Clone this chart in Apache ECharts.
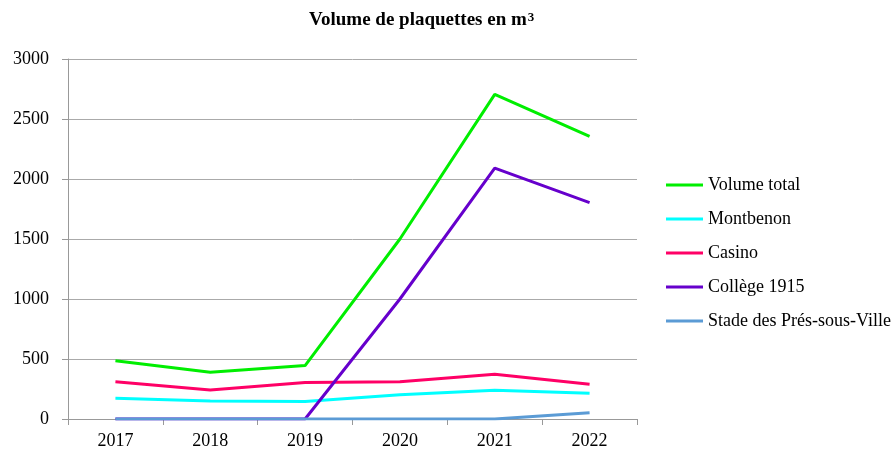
<!DOCTYPE html>
<html>
<head>
<meta charset="utf-8">
<script src="https://cdn.jsdelivr.net/npm/echarts@6/dist/echarts.min.js"></script>
<style>
  html, body { margin: 0; padding: 0; background: #fff; }
  #chart { width: 896px; height: 453px; }
</style>
</head>
<body>
<div id="chart"></div>
<script>
// données
var years = ["2017", "2018", "2019", "2020", "2021", "2022"];
var volumeTotal = [485, 390, 445, 1500, 2705, 2355];
var montbenon = [172, 150, 145, 203, 240, 214];
var casino = [311, 242, 305, 311, 372, 289];
var college1915 = [0, 0, 0, 1000, 2090, 1803];
var stade = [0, 0, 0, 0, 0, 53];

var font = "Liberation Serif";

function serie(name, data, color) {
  return {
    name: name,
    type: "line",
    data: data,
    symbol: "none",
    lineStyle: { width: 3, color: color },
    itemStyle: { color: color }
  };
}

var chart = echarts.init(document.getElementById("chart"));
chart.setOption({
  animation: false,
  title: {
    text: "Volume de plaquettes en m{sup|3}",
    left: 304,
    top: 6,
    textStyle: {
      fontFamily: font, fontSize: 19, fontWeight: "bold", color: "#000",
      rich: {
        sup: { fontFamily: font, fontSize: 13, fontWeight: "bold", color: "#000", verticalAlign: "top", padding: [0, 0, 6, 1] }
      }
    }
  },
  legend: {
    orient: "vertical",
    left: 661,
    top: 171,
    itemWidth: 37,
    itemHeight: 3,
    itemGap: 16,
    icon: "rect",
    textStyle: { fontFamily: font, fontSize: 18, color: "#000", padding: [0, 0, 0, 0] },
    data: ["Volume total", "Montbenon", "Casino", "Collège 1915", "Stade des Prés-sous-Ville"]
  },
  grid: { left: 68, right: 259, top: 59, bottom: 34 },
  xAxis: {
    type: "category",
    data: years,
    boundaryGap: true,
    axisLine: { lineStyle: { color: "#999", width: 1 } },
    axisTick: { show: true, length: 6, lineStyle: { color: "#999" } },
    axisLabel: { fontFamily: font, fontSize: 18, color: "#000", margin: 13 }
  },
  yAxis: {
    type: "value",
    min: 0,
    max: 3000,
    interval: 500,
    axisLine: { show: true, lineStyle: { color: "#999", width: 1 } },
    axisTick: { show: true, length: 6, lineStyle: { color: "#999" } },
    splitLine: { lineStyle: { color: "#aaa", width: 1 } },
    axisLabel: {
      fontFamily: font, fontSize: 18, color: "#000", margin: 19,
      formatter: function (v) { return String(v); }
    }
  },
  series: [
    serie("Volume total", volumeTotal, "#00ee00"),
    serie("Montbenon", montbenon, "#00ffff"),
    serie("Casino", casino, "#ff0066"),
    serie("Collège 1915", college1915, "#6600cc"),
    serie("Stade des Prés-sous-Ville", stade, "#5b9bd5")
  ]
});
</script>
</body>
</html>
